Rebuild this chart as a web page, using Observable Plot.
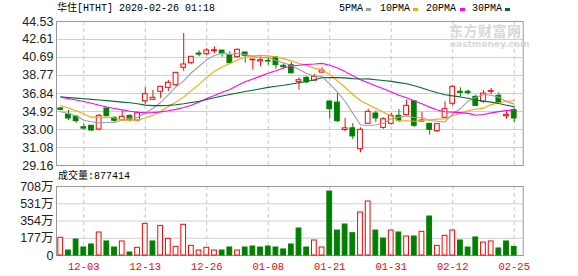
<!DOCTYPE html>
<html><head><meta charset="utf-8">
<script src="https://cdn.jsdelivr.net/npm/d3@7"></script>
<script src="https://cdn.jsdelivr.net/npm/@observablehq/plot@0.6"></script>
<style>
body{margin:0;background:#fff;}
#wrap{position:relative;width:578px;height:276px;overflow:hidden;font-family:"Liberation Mono","Noto Sans CJK SC",monospace;}
#wrap svg{position:absolute;left:0;}
.t{position:absolute;font-size:10px;color:#000;white-space:nowrap;line-height:10px;}
.sw{position:absolute;width:5px;height:3px;}
.wm{position:absolute;color:#d8d8d8;font-weight:bold;white-space:nowrap;}
</style></head><body><div id="wrap"></div>
<script>
const dates = ["11-27","11-29","12-02","12-03","12-04","12-05","12-06","12-09","12-10","12-11","12-12","12-13","12-16","12-17","12-18","12-19","12-20","12-23","12-24","12-26","12-27","12-30","12-31","01-02","01-03","01-06","01-07","01-08","01-09","01-10","01-13","01-14","01-15","01-16","01-17","01-21","01-22","01-23","01-24","01-27","01-28","01-29","01-30","01-31","02-03","02-04","02-05","02-06","02-07","02-10","02-11","02-12","02-13","02-14","02-18","02-19","02-20","02-21","02-24","02-25"];
const open = [35.25,34.6,34.39,33.24,33.4,33.0,35.24,34.25,33.99,34.46,33.96,36.02,36.17,37.03,37.45,37.73,39.59,40.08,41.11,41.04,41.36,41.43,40.93,40.72,41.22,40.39,40.26,40.33,40.69,39.8,39.87,38.05,38.52,38.2,39.07,35.99,35.88,32.95,33.13,30.9,33.61,34.71,33.18,33.61,34.46,34.53,36.02,33.86,33.61,32.82,34.25,35.75,37.03,37.03,36.49,35.96,37.03,36.6,34.42,35.06];
const close = [35.1,34.18,33.89,33.1,32.9,34.46,34.42,33.93,34.36,33.99,34.74,36.77,36.39,37.56,37.99,39.05,39.94,40.76,41.0,41.43,41.46,41.11,40.08,41.51,40.87,40.47,40.4,40.26,39.87,39.65,39.0,38.26,38.05,38.63,39.3,35.17,33.89,33.13,32.26,32.97,34.89,34.18,34.1,34.46,33.96,35.53,33.4,33.96,32.97,33.57,35.17,37.56,36.92,36.88,35.53,36.84,37.1,35.88,34.57,34.18];
const high = [35.35,35.03,34.46,33.6,33.4,34.6,35.28,34.35,34.96,34.55,34.89,37.45,37.17,37.6,38.23,39.1,43.25,40.8,41.4,41.65,41.83,41.43,41.3,41.58,41.22,40.47,40.76,40.58,40.79,40.0,40.15,38.52,38.63,38.87,39.59,35.99,36.84,34.18,33.64,33.18,35.17,34.96,34.25,34.71,35.13,36.13,36.02,34.82,33.61,33.57,35.96,37.67,37.45,37.2,36.66,37.17,37.38,36.92,34.89,35.24];
const low = [35.0,33.96,33.67,32.93,32.8,32.86,34.38,33.8,33.95,33.8,33.82,35.67,36.17,36.31,37.06,37.56,39.2,39.97,40.76,40.87,41.11,40.72,40.01,40.65,40.08,39.33,39.69,39.87,39.44,39.44,38.94,37.2,37.88,38.2,39.07,34.1,33.75,32.76,31.93,30.52,33.54,33.75,33.03,33.46,33.75,34.46,33.22,33.78,32.39,32.68,34.18,35.53,36.52,36.66,35.46,35.78,36.74,35.78,34.1,33.75];
const volume = [182,51,164,82,113,236,144,82,144,31,79,325,144,304,171,89,315,99,51,79,51,51,82,51,82,92,82,92,82,62,113,277,82,154,82,656,256,318,229,441,554,256,174,256,236,195,195,243,400,99,202,256,154,82,185,133,144,72,144,88];
const ma5 = [34.89,34.71,34.46,33.99,33.83,33.71,33.75,33.76,34.01,34.23,34.29,34.76,35.25,35.89,36.69,37.55,38.19,39.06,39.75,40.44,40.91,41.15,41.01,41.11,41.0,40.81,40.67,40.70,40.37,40.13,39.84,39.41,38.97,38.72,38.65,37.88,37.0,36.02,34.75,33.48,33.43,33.49,33.68,34.12,34.32,34.45,34.29,34.26,33.96,33.89,33.81,34.65,35.24,36.03,36.42,36.75,36.66,36.45,35.98,35.71];
const ma10 = [35.53,35.3,35.0,34.65,34.32,34.3,34.3,34.25,34.0,34.03,34.0,34.26,34.51,34.95,35.46,35.92,36.48,37.16,37.82,38.57,39.23,39.67,40.04,40.43,40.72,40.86,40.91,40.86,40.74,40.57,40.33,40.04,39.84,39.55,39.39,38.86,38.21,37.50,36.74,36.07,35.66,35.25,34.85,34.44,33.90,33.94,33.89,33.97,34.04,34.11,34.13,34.47,34.75,35.0,35.16,35.28,35.66,35.85,36.01,36.07];
const ma20 = [36.45,36.3,36.15,36.0,35.8,35.6,35.4,35.25,35.1,34.95,34.85,34.78,34.8,34.88,35.0,35.15,35.35,35.6,35.95,36.30,36.62,36.97,37.28,37.69,38.09,38.39,38.70,39.01,39.28,39.57,39.78,39.86,39.94,39.99,40.06,39.86,39.56,39.18,38.74,38.32,38.0,37.65,37.35,37.0,36.65,36.40,36.05,35.74,35.39,35.09,34.90,34.86,34.80,34.72,34.53,34.61,34.78,34.91,35.03,35.09];
const ma30 = [36.5,36.42,36.35,36.28,36.22,36.15,36.08,36.0,35.92,35.85,35.75,35.6,35.55,35.55,35.58,35.65,35.75,35.88,36.0,36.2,36.4,36.57,36.74,36.9,37.05,37.2,37.35,37.5,37.62,37.72,37.86,37.99,38.13,38.31,38.52,38.55,38.54,38.51,38.43,38.40,38.41,38.32,38.24,38.14,38.01,37.89,37.67,37.44,37.17,36.92,36.71,36.59,36.48,36.33,36.15,36.03,35.92,35.78,35.60,35.42];
const tickDates = ["12-03","12-13","12-26","01-08","01-21","01-31","02-12","02-25"];
const priceTicks = [44.53,42.61,40.69,38.77,36.84,34.92,33.00,31.08,29.16];
const volTicks = [0,177,354,531,708];
const maNames = ["5PMA","10PMA","20PMA","30PMA"];
const maColors = ["#a0a0a0","#ffa500","#ff00ff","#006f30"];
const titleText = "华住[HTHT] 2020-02-26 01:18";
const volText = "成交量:877414";

const RED = "#ff0000", GREEN = "#008000";
const rows = dates.map((d, i) => ({i, date: d, open: open[i], close: close[i], high: high[i], low: low[i],
  vol: volume[i], volUp: i === 0 || close[i] > close[i - 1]}));
const maRows = [ma5, ma10, ma20, ma30].map(arr => arr.map((v, i) => ({i, v})));
const tickIdx = tickDates.map(t => dates.indexOf(t));
const xDomain = [-0.55, 60.17];
const up = d => d.close >= d.open;
const down = d => d.close < d.open;
const labelFont = "'Liberation Sans','Noto Sans CJK SC',sans-serif";
const monoFont = "'Liberation Mono','Noto Sans CJK SC',monospace";

const wrap = document.getElementById("wrap");

const price = Plot.plot({
  width: 578, height: 170, marginLeft: 56, marginRight: 55.3, marginTop: 21, marginBottom: 5,
  x: {type: "linear", domain: xDomain, axis: null, label: null},
  y: {domain: [29.16, 44.53], label: null},
  style: {background: "transparent", overflow: "visible"},
  marks: [
    Plot.ruleY(priceTicks.slice(1, -1), {stroke: "#cfcfcf"}),
    Plot.ruleX(tickIdx, {stroke: "#c8c8c8", strokeDasharray: "4,3"}),
    Plot.frame({stroke: "#999"}),
    Plot.axisY({ticks: priceTicks, anchor: "left", tickSize: 0, tickPadding: 3, label: null,
      tickFormat: d => d.toFixed(2), fontSize: 12.5, fontFamily: labelFont, fill: "#222"}),
    Plot.ruleX(rows, {filter: up, x: "i", y1: "low", y2: "high", stroke: RED}),
    Plot.ruleX(rows, {filter: down, x: "i", y1: "low", y2: "high", stroke: GREEN}),
    Plot.rect(rows, {filter: up, x1: d => d.i - 0.31, x2: d => d.i + 0.31, y1: "open", y2: "close", fill: "white", stroke: RED}),
    Plot.rect(rows, {filter: down, x1: d => d.i - 0.31, x2: d => d.i + 0.31, y1: "open", y2: "close", fill: GREEN, stroke: GREEN}),
    ...maRows.map((r, k) => Plot.line(r, {x: "i", y: "v", stroke: maColors[k], strokeWidth: 1.1}))
  ]
});
price.style.top = "0px";
wrap.appendChild(price);

const vol = Plot.plot({
  width: 578, height: 106, marginLeft: 56, marginRight: 55.3, marginTop: 16, marginBottom: 21,
  x: {type: "linear", domain: xDomain, label: null},
  y: {domain: [0, 708], label: null},
  style: {background: "transparent", overflow: "visible"},
  marks: [
    Plot.ruleY(volTicks.slice(1, -1), {stroke: "#cfcfcf"}),
    Plot.ruleX(tickIdx, {stroke: "#c8c8c8", strokeDasharray: "4,3"}),
    Plot.frame({stroke: "#999"}),
    Plot.axisY({ticks: volTicks, anchor: "left", tickSize: 0, tickPadding: 3, label: null,
      tickFormat: d => d === 0 ? "0" : d + "万", fontSize: 12.5, fontFamily: labelFont, fill: "#222"}),
    Plot.axisX({ticks: tickIdx, anchor: "bottom", tickSize: 0, tickPadding: 7, label: null,
      tickFormat: i => dates[i], fontSize: 10.5, fontFamily: monoFont, fill: RED}),
    Plot.rect(rows, {filter: d => d.volUp, x1: d => d.i - 0.31, x2: d => d.i + 0.31, y1: 0, y2: "vol", fill: "white", stroke: RED}),
    Plot.rect(rows, {filter: d => !d.volUp, x1: d => d.i - 0.31, x2: d => d.i + 0.31, y1: 0, y2: "vol", fill: GREEN, stroke: GREEN})
  ]
});
vol.style.top = "170px";
wrap.appendChild(vol);

function addText(txt, x, y, cls, extra) {
  const el = document.createElement("div");
  el.className = cls;
  el.textContent = txt;
  el.style.left = x + "px";
  el.style.top = y + "px";
  if (extra) Object.assign(el.style, extra);
  wrap.appendChild(el);
  return el;
}
// watermark
addText("东方财富网", 449, 23, "wm", {fontSize: "14px", fontFamily: "'Noto Sans CJK SC',sans-serif", lineHeight: "15px", letterSpacing: "0.5px"});
addText("eastmoney.com", 450, 39.5, "wm", {fontSize: "9px", fontFamily: "'DejaVu Sans',sans-serif", lineHeight: "9px"});

addText(titleText, 57, 4, "t");
addText(volText, 58, 172, "t");
const legX = [339, 380, 426, 472];
const swX = [365.5, 413, 460, 505];
maNames.forEach((n, k) => {
  addText(n, legX[k], 4, "t");
  const s = document.createElement("div");
  s.className = "sw";
  s.style.left = swX[k] + "px";
  s.style.top = "7.5px";
  s.style.background = maColors[k];
  wrap.appendChild(s);
});
</script></body></html>
